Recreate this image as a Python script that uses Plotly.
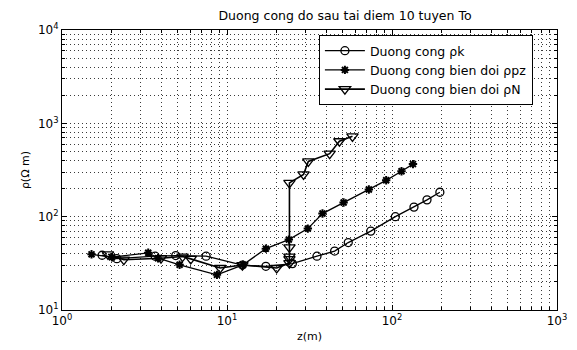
import plotly.graph_objects as go

# ---- data ----
pk_z = [1.75, 2.15, 3.67, 4.89, 7.47, 12.4, 17.2, 24.9, 35.1, 44.9, 54.3, 74.4, 104.8, 135.9, 163.0, 195.0]
pk_rho = [38.6, 35.5, 37.7, 38.3, 37.7, 30.3, 29.4, 31.4, 37.7, 42.8, 52.8, 70.0, 100.0, 126.6, 151.4, 182.7]

ppz_z = [1.51, 2.01, 3.33, 3.82, 5.16, 8.69, 12.5, 17.2, 23.7, 30.9, 37.9, 50.9, 72.4, 92.2, 114.2, 134.0]
ppz_rho = [39.5, 36.8, 41.0, 35.9, 30.5, 23.8, 30.5, 45.4, 56.8, 74.5, 108.0, 141.8, 195.5, 245.2, 306.9, 365.9]

pN_z = [1.90, 2.37, 3.98, 5.38, 6.03, 9.09, 12.4, 20.0, 23.9, 23.9, 23.9, 23.9, 23.9, 29.1, 31.1, 41.9, 48.0, 57.6]
pN_rho = [39.5, 34.6, 35.9, 37.4, 35.3, 28.2, 30.3, 28.2, 31.8, 35.0, 37.4, 46.8, 229.8, 283.5, 390.5, 473.6, 643.0, 725.6]

series_names = ["Duong cong ρk", "Duong cong bien doi ρpz", "Duong cong bien doi ρN"]

x_tickvals = [1, 10, 100, 1000]
x_ticktext = ["10<sup>0</sup>", "10<sup>1</sup>", "10<sup>2</sup>", "10<sup>3</sup>"]
y_tickvals = [10, 100, 1000, 10000]
y_ticktext = ["10<sup>1</sup>", "10<sup>2</sup>", "10<sup>3</sup>", "10<sup>4</sup>"]

title_text = "Duong cong do sau tai diem 10 tuyen To"
x_title = "z(m)"
y_title = "ρ(Ω m)"

FONT = "DejaVu Sans, Verdana, sans-serif"
GRID = "#3a3a3a"
DOTS = "1px,3px"

fig = go.Figure()
fig.add_trace(go.Scatter(
    x=pk_z, y=pk_rho, name=series_names[0], mode="lines+markers",
    line=dict(color="black", width=1.3),
    marker=dict(symbol="circle-open", size=8, color="black", line=dict(width=1.3)),
))
fig.add_trace(go.Scatter(
    x=ppz_z, y=ppz_rho, name=series_names[1], mode="lines+markers",
    line=dict(color="black", width=1.3),
    marker=dict(symbol="asterisk-open", size=7, color="black", line=dict(width=2)),
))
fig.add_trace(go.Scatter(
    x=pN_z, y=pN_rho, name=series_names[2], mode="lines+markers",
    line=dict(color="black", width=1.6),
    marker=dict(symbol="triangle-down-open", size=10, color="black", line=dict(width=1.3)),
))

axis_common = dict(
    type="log",
    showline=True, linecolor="black", linewidth=1, mirror="allticks",
    ticks="inside", ticklen=5, tickcolor="black",
    showgrid=True, gridcolor=GRID, griddash=DOTS, gridwidth=1,
    zeroline=False,
    tickfont=dict(family=FONT, size=12, color="black"),
    minor=dict(dtick="D1", showgrid=True, gridcolor=GRID, griddash=DOTS,
               gridwidth=1, ticks="inside", ticklen=3, tickcolor="black"),
)

fig.update_xaxes(
    range=[0, 3], tickvals=x_tickvals, ticktext=x_ticktext,
    title=dict(text=x_title, font=dict(family=FONT, size=11, color="black"), standoff=4),
    **axis_common,
)
fig.update_yaxes(
    range=[1, 4], tickvals=y_tickvals, ticktext=y_ticktext,
    title=dict(text=y_title, font=dict(family=FONT, size=11, color="black"), standoff=6),
    **axis_common,
)

fig.update_layout(
    width=577, height=350,
    margin=dict(l=62, r=10, t=30, b=34),
    paper_bgcolor="white", plot_bgcolor="white",
    title=dict(text=title_text, x=0.598, xanchor="center", y=0.955, yanchor="middle",
               font=dict(family=FONT, size=12.5, color="black")),
    showlegend=True,
    legend=dict(x=0.519, y=0.982, xanchor="left", yanchor="top",
                bgcolor="white", bordercolor="black", borderwidth=1,
                font=dict(family=FONT, size=12.5, color="black"),
                tracegroupgap=0, itemwidth=40),
)

fig.write_html("out.html")
